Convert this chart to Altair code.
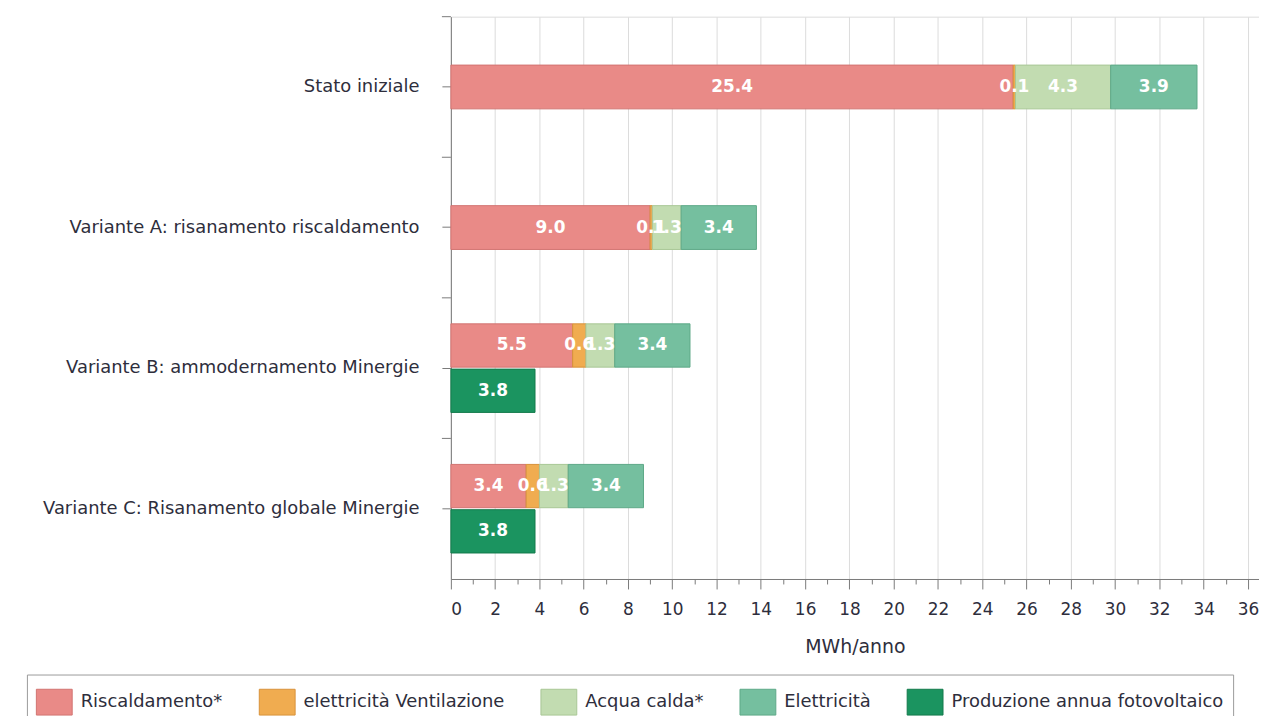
import altair as alt
import pandas as pd

# ---- data ----
categorie = [
    "Stato iniziale",
    "Variante A: risanamento riscaldamento",
    "Variante B: ammodernamento Minergie",
    "Variante C: Risanamento globale Minergie",
]
componenti = [
    "Riscaldamento*",
    "elettricità Ventilazione",
    "Acqua calda*",
    "Elettricità",
    "Produzione annua fotovoltaico",
]
riscaldamento = [25.4, 9.0, 5.5, 3.4]
ventilazione = [0.1, 0.1, 0.6, 0.6]
acqua_calda = [4.3, 1.3, 1.3, 1.3]
elettricita = [3.9, 3.4, 3.4, 3.4]
fotovoltaico = [None, None, 3.8, 3.8]

colori = ["#E98A87", "#F0AC50", "#C2DCB1", "#75BF9F", "#1B9460"]
bordi = ["#D27471", "#D8923A", "#A8C795", "#5EA887", "#137A4C"]
righe = ["consumo", "fotovoltaico"]

x_ticks = list(range(0, 37))

# ---- long table ----
rows = []
serie = [riscaldamento, ventilazione, acqua_calda, elettricita]
for i, cat in enumerate(categorie):
    doppia = fotovoltaico[i] is not None
    for k, s in enumerate(serie):
        rows.append(dict(Variante=cat, Componente=componenti[k], valore=s[i],
                         ordine=k, riga="consumo", doppia=doppia))
    if doppia:
        rows.append(dict(Variante=cat, Componente=componenti[4], valore=fotovoltaico[i],
                         ordine=4, riga="fotovoltaico", doppia=True))
df = pd.DataFrame(rows)
df_single = df[~df["doppia"]].drop(columns="doppia")
df_double = df[df["doppia"]].drop(columns="doppia")

FONT = "DejaVu Sans"
TXT = "#2E2E3C"

x_axis = alt.Axis(
    values=x_ticks,
    labelExpr="datum.value % 2 === 0 ? datum.label : ''",
    tickSize={"condition": {"test": "datum.value % 2 === 0", "value": 10}, "value": 5},
    gridOpacity={"condition": {"test": "datum.value % 2 === 0", "value": 1}, "value": 0},
    grid=True,
    gridColor="#DCDCDC",
    domainColor="#7A7A7A",
    tickColor="#7A7A7A",
    labelFont=FONT,
    labelFontSize=17,
    labelColor=TXT,
    labelPadding=13,
    title="MWh/anno",
    titleFont=FONT,
    titleFontSize=19,
    titleFontWeight="normal",
    titleColor=TXT,
    titlePadding=20,
)
x_scale = alt.Scale(domain=[0, 36.5], nice=False, zero=True)

y_axis = alt.Axis(
    title=None,
    labelFont=FONT,
    labelFontSize=18,
    labelColor=TXT,
    labelLimit=600,
    labelPadding=23,
    tickSize=9,
    tickColor="#7A7A7A",
    domainColor="#7A7A7A",
    grid=False,
    minExtent=440,
    maxExtent=440,
)
y_scale = alt.Scale(domain=categorie, paddingInner=0, paddingOuter=0)
y_enc = alt.Y("Variante:N", sort=categorie, scale=y_scale, axis=y_axis)

color_enc = alt.Color(
    "Componente:N",
    scale=alt.Scale(domain=componenti, range=colori),
    legend=alt.Legend(
        orient="none",
        legendX=-426,
        legendY=661,
        direction="horizontal",
        title=None,
        symbolType="M-1,-0.72H1V0.72H-1Z",
        symbolSize=1296,
        symbolStrokeWidth=1,
        symbolStrokeColor="#B0B0B0",
        symbolOpacity=1,
        labelFont=FONT,
        labelFontSize=18,
        labelColor=TXT,
        labelOffset=8,
        columnPadding=34,
        strokeColor="#9A9A9A",
        padding=9,
        labelLimit=600,
    ),
)
stroke_enc = alt.Stroke("Componente:N",
                        scale=alt.Scale(domain=componenti, range=bordi), legend=None)

yoff_enc = alt.YOffset("riga:N",
                       scale=alt.Scale(domain=righe, paddingInner=0.044, paddingOuter=0.574))

stack_sort = [alt.SortField("ordine", order="ascending")]

bars_single = (
    alt.Chart(df_single)
    .transform_stack(stack="valore", groupby=["Variante"], as_=["x0", "x1"], sort=stack_sort)
    .mark_bar(height=44, strokeWidth=1, opacity=1)
    .encode(
        x=alt.X("x0:Q", scale=x_scale, axis=x_axis),
        x2="x1:Q",
        y=y_enc,
        color=color_enc,
        stroke=stroke_enc,
    )
)

bars_double = (
    alt.Chart(df_double)
    .transform_stack(stack="valore", groupby=["Variante", "riga"], as_=["x0", "x1"], sort=stack_sort)
    .mark_bar(strokeWidth=1, opacity=1)
    .encode(
        x=alt.X("x0:Q", scale=x_scale, axis=x_axis),
        x2="x1:Q",
        y=y_enc,
        yOffset=yoff_enc,
        color=color_enc,
        stroke=stroke_enc,
    )
)

text_props = dict(color="white", font=FONT, fontSize=17, fontWeight="bold",
                  align="center", baseline="middle")

text_single = (
    alt.Chart(df_single)
    .transform_stack(stack="valore", groupby=["Variante"], as_=["x0", "x1"], sort=stack_sort)
    .transform_calculate(mid="(datum.x0 + datum.x1) / 2")
    .mark_text(**text_props)
    .encode(
        x=alt.X("mid:Q", scale=x_scale, axis=x_axis),
        y=y_enc,
        text=alt.Text("valore:Q", format=".1f"),
    )
)

text_double = (
    alt.Chart(df_double)
    .transform_stack(stack="valore", groupby=["Variante", "riga"], as_=["x0", "x1"], sort=stack_sort)
    .transform_calculate(mid="(datum.x0 + datum.x1) / 2")
    .mark_text(**text_props)
    .encode(
        x=alt.X("mid:Q", scale=x_scale, axis=x_axis),
        y=y_enc,
        yOffset=yoff_enc,
        text=alt.Text("valore:Q", format=".1f"),
    )
)

bordi_cat = (
    alt.Chart(pd.DataFrame({"Variante": categorie}))
    .mark_rule(color="#7A7A7A", strokeWidth=1)
    .encode(
        y=alt.Y("Variante:N", sort=categorie, bandPosition=0, scale=y_scale, axis=y_axis),
        x=alt.value(-9),
        x2=alt.value(0),
    )
)

chart = (
    alt.layer(bars_single, bars_double, text_single, text_double, bordi_cat)
    .properties(width=812, height=565,
                padding={"left": 5, "top": 6, "right": 0, "bottom": 0})
    .configure_view(stroke="#C8C8C8", strokeWidth=1)
    .configure(background="white")
)

chart.save("out.html", embed_options={"renderer": "svg", "actions": False})
